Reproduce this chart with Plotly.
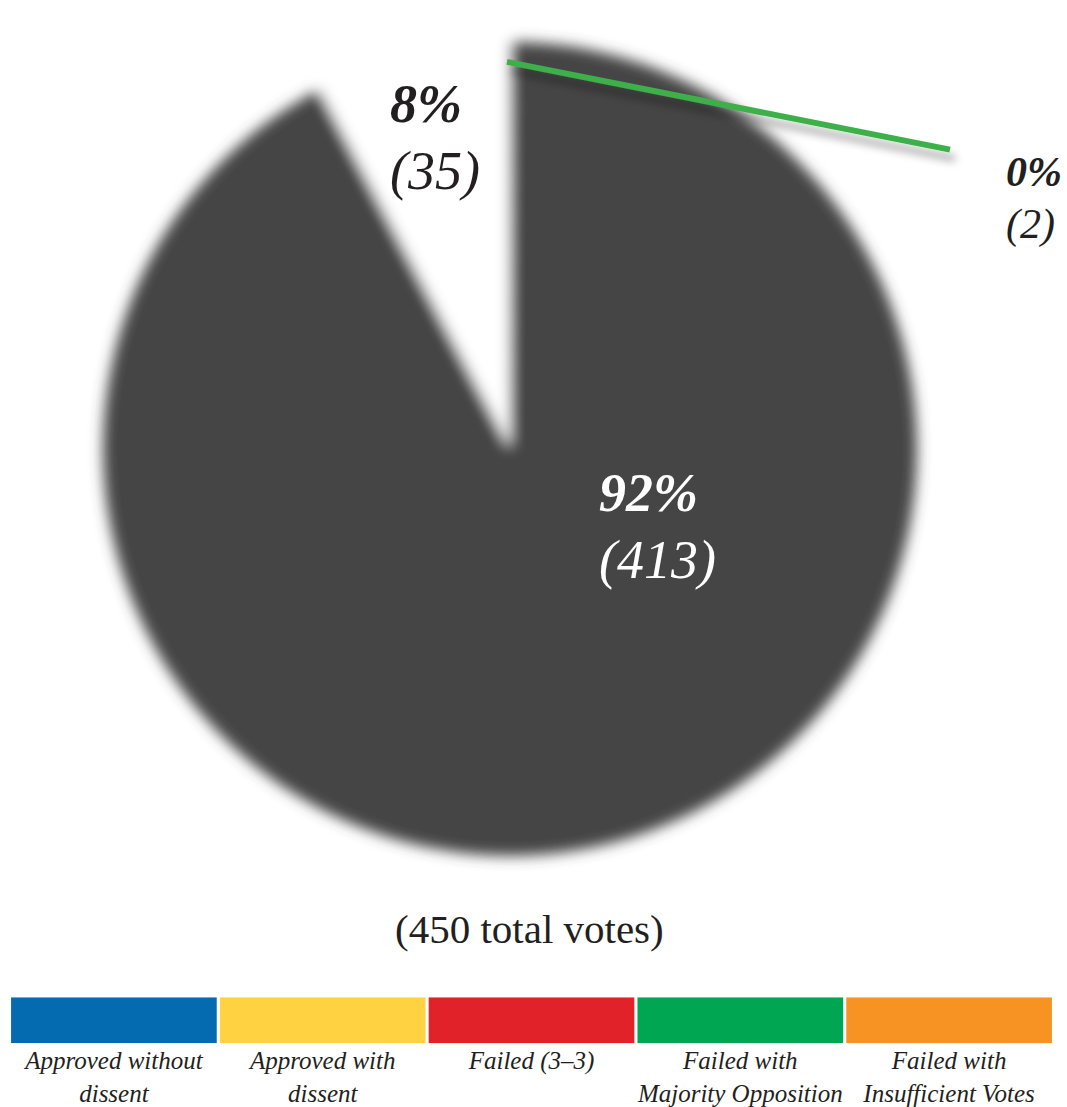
import plotly.graph_objects as go

# ---- data ----
slice_labels = ["Failed with Majority Opposition", "Approved", "Approved with dissent"]
slice_votes = [2, 413, 35]
slice_colors = ["#444444", "#444444", "#ffffff"]
total_votes = sum(slice_votes)

legend_labels = ["Approved without<br>dissent", "Approved with<br>dissent", "Failed (3–3)",
                 "Failed with<br>Majority Opposition", "Failed with<br>Insufficient Votes"]
legend_colors = ["#046bb0", "#fed241", "#e12228", "#00a651", "#f69322"]
legend_values = [1, 1, 1, 1, 1]

W, H = 1067, 1107
CX, CY, R = 510, 450, 408
FONT = "Liberation Serif"

def px(x):
    return x / W

def py(y):
    return 1 - y / H

fig = go.Figure()

fig.add_trace(go.Pie(
    labels=slice_labels, values=slice_votes,
    marker=dict(colors=slice_colors, line=dict(width=0)),
    sort=False, direction="clockwise", rotation=0,
    textinfo="none", hoverinfo="label+value+percent", showlegend=False,
    domain=dict(x=[px(CX - R), px(CX + R)], y=[py(CY + R), py(CY - R)]),
))

legend_x = list(range(len(legend_labels)))
fig.add_trace(go.Bar(
    x=legend_x, y=legend_values, marker=dict(color=legend_colors, line=dict(width=0)),
    showlegend=False, hoverinfo="skip", xaxis="x", yaxis="y",
))

pct = [round(v / total_votes * 100) for v in slice_votes]
TXT = "#231f20"
label_specs = [
    # (index, left x, y line1, y line2, size, color)
    (2, 388, 104, 171, 54, TXT),
    (1, 597, 494, 562, 54, "#ffffff"),
    (0, 1004, 172, 225, 42, TXT),
]
annotations = []
for i, lx, y1, y2, size, col in label_specs:
    annotations.append(dict(
        x=px(lx), y=py(y1), xref="paper", yref="paper", xanchor="left", yanchor="middle",
        text=f"<b>{pct[i]}%</b>", showarrow=False,
        font=dict(family=FONT, size=size, color=col, style="italic")))
    annotations.append(dict(
        x=px(lx), y=py(y2), xref="paper", yref="paper", xanchor="left", yanchor="middle",
        text=f"({slice_votes[i]})", showarrow=False,
        font=dict(family=FONT, size=size, color=col, style="italic")))

annotations.append(dict(
    x=px(529), y=py(932), xref="paper", yref="paper", xanchor="center", yanchor="middle",
    text=f"({total_votes} total votes)", showarrow=False,
    font=dict(family=FONT, size=41, color=TXT)))

fig.update_layout(
    width=W, height=H,
    margin=dict(l=0, r=0, t=0, b=0),
    paper_bgcolor="white", plot_bgcolor="white",
    bargap=0.015,
    xaxis=dict(domain=[px(9.5), px(1053.5)], range=[-0.5, 4.5], tickvals=legend_x,
               ticktext=legend_labels, showgrid=False, zeroline=False, showline=False,
               ticks="", fixedrange=True,
               tickfont=dict(family=FONT, size=25, color=TXT, style="italic")),
    yaxis=dict(domain=[py(1046), py(1000)], range=[0, 1], visible=False, fixedrange=True),
    annotations=annotations,
    shapes=[dict(type="line", xref="paper", yref="paper",
                 x0=px(507), y0=py(CY - R + 20), x1=px(950), y1=py(150),
                 line=dict(color="#3db049", width=6))],
)

post = """
document.documentElement.style.margin = '0';
document.body.style.margin = '0';
document.body.style.padding = '0';
document.body.style.overflow = 'hidden';
var gd = document.getElementById('{plot_id}');
var ns = 'http://www.w3.org/2000/svg';
var svg = gd.querySelector('svg.main-svg');
var defs = svg.querySelector('defs');
if (!defs) { defs = document.createElementNS(ns, 'defs'); svg.insertBefore(defs, svg.firstChild); }
var f = document.createElementNS(ns, 'filter');
f.setAttribute('id', 'pieBlur');
f.setAttribute('x', '-10%'); f.setAttribute('y', '-10%');
f.setAttribute('width', '120%'); f.setAttribute('height', '120%');
var b = document.createElementNS(ns, 'feGaussianBlur');
b.setAttribute('stdDeviation', '7');
f.appendChild(b); defs.appendChild(f);
var f2 = document.createElementNS(ns, 'filter');
f2.setAttribute('id', 'lineShadow');
f2.setAttribute('x', '-10%'); f2.setAttribute('y', '-60%');
f2.setAttribute('width', '130%'); f2.setAttribute('height', '250%');
var d = document.createElementNS(ns, 'feDropShadow');
d.setAttribute('dx', '5'); d.setAttribute('dy', '9'); d.setAttribute('stdDeviation', '4');
d.setAttribute('flood-color', '#000'); d.setAttribute('flood-opacity', '0.35');
f2.appendChild(d); defs.appendChild(f2);
gd.querySelectorAll('.pielayer .trace').forEach(function(t){ t.setAttribute('filter', 'url(#pieBlur)'); });
gd.querySelectorAll('.shapelayer path').forEach(function(p){ p.setAttribute('filter', 'url(#lineShadow)'); });
"""

fig.write_html("out.html", post_script=post, config={"displayModeBar": False})
